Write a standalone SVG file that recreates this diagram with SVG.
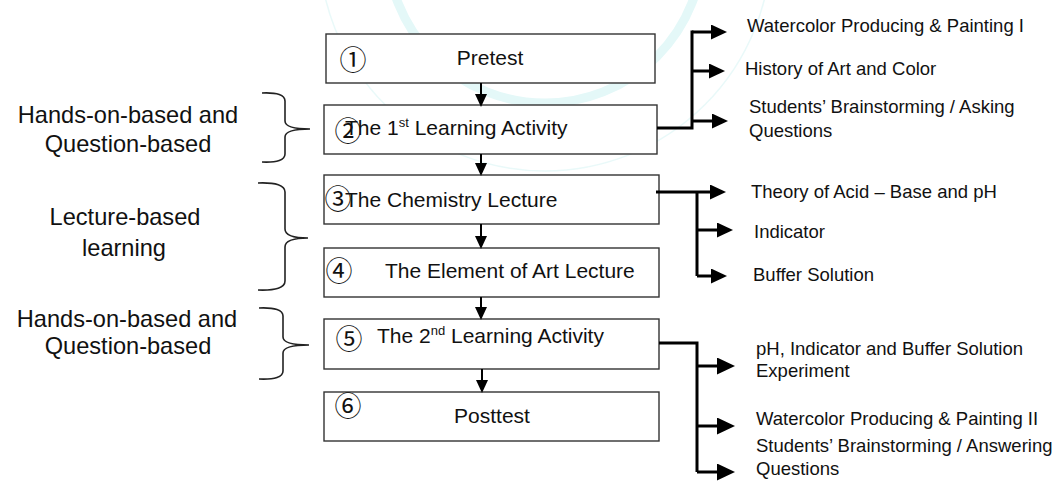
<svg xmlns="http://www.w3.org/2000/svg" width="1058" height="486" viewBox="0 0 1058 486">
  <style>
    .box { fill: #ffffff; stroke: #333333; stroke-width: 1.4; }
    .main { font-family: "Liberation Sans", Arial, sans-serif; font-size: 21px; fill: #111111; }
    .num { font-family: "Noto Sans CJK JP", "DejaVu Sans", sans-serif; font-size: 27px; fill: #111111; text-anchor: middle; }
    .side { font-family: "Liberation Sans", Arial, sans-serif; font-size: 23.6px; fill: #111111; text-anchor: middle; }
    .item { font-family: "Liberation Sans", Arial, sans-serif; font-size: 18.5px; fill: #111111; }
    .sup { font-size: 13px; }
    .brace { fill: none; stroke: #222222; stroke-width: 1.6; }
    .flow { fill: none; stroke: #000000; stroke-width: 2; }
    .branch { fill: none; stroke: #000000; stroke-width: 3; }
    .wm { fill: none; stroke: #e4f8f8; }
  </style>
  <defs>
    <marker id="headDown" markerUnits="userSpaceOnUse" markerWidth="13" markerHeight="12" viewBox="0 0 13 12" refX="0" refY="6" orient="auto">
      <path d="M0,0 L13,6 L0,12 z" fill="#000000"/>
    </marker>
    <marker id="headRight" markerUnits="userSpaceOnUse" markerWidth="16" markerHeight="15" viewBox="0 0 16 15" refX="0" refY="7.5" orient="auto">
      <path d="M0,0 L16,7.5 L0,15 z" fill="#000000"/>
    </marker>
    <marker id="headRightLg" markerUnits="userSpaceOnUse" markerWidth="18" markerHeight="17" viewBox="0 0 18 17" refX="0" refY="8.5" orient="auto">
      <path d="M0,0 L18,8.5 L0,17 z" fill="#000000"/>
    </marker>
  </defs>

  <rect width="1058" height="486" fill="#ffffff"/>

  <!-- faint seal rings in the background -->
  <g id="seal">
    <circle class="wm" cx="545" cy="-55" r="158" stroke-width="9"/>
    <circle class="wm" cx="545" cy="-55" r="226" stroke-width="1.5" opacity="0.8"/>
  </g>

  <!-- left-hand phase labels with braces -->
  <g id="phase-1">
    <text class="side" x="128" y="123">Hands-on-based and</text>
    <text class="side" x="128" y="152">Question-based</text>
    <path class="brace" d="M262,93 Q285,92 285,101 V121 Q285,129 310,129 Q285,129 285,137 V154 Q285,163 262,162"/>
  </g>
  <g id="phase-2">
    <text class="side" x="125" y="225">Lecture-based</text>
    <text class="side" x="124" y="256">learning</text>
    <path class="brace" d="M258,183 Q285,182 285,192 V229 Q285,238 308,238 Q285,238 285,247 V281 Q285,291 258,290"/>
  </g>
  <g id="phase-3">
    <text class="side" x="127" y="327">Hands-on-based and</text>
    <text class="side" x="128" y="354">Question-based</text>
    <path class="brace" d="M259,308 Q283,307 283,316 V337 Q283,345 309,345 Q283,345 283,353 V371 Q283,380 259,379"/>
  </g>

  <!-- main sequence -->
  <g id="step-1">
    <rect class="box" x="326" y="34" width="329" height="49"/>
    <text class="num" x="353" y="70">①</text>
    <text class="main" x="490" y="65" text-anchor="middle">Pretest</text>
  </g>
  <g id="step-2">
    <rect class="box" x="324" y="105" width="333" height="49"/>
    <text class="main" x="345" y="135">The 1<tspan class="sup" dy="-8">st</tspan><tspan dy="8"> Learning Activity</tspan></text>
    <text class="num" x="348" y="141">②</text>
  </g>
  <g id="step-3">
    <rect class="box" x="324" y="175" width="335" height="49"/>
    <text class="main" x="345" y="207">The Chemistry Lecture</text>
    <text class="num" x="338" y="209">③</text>
  </g>
  <g id="step-4">
    <rect class="box" x="324" y="248" width="335" height="49"/>
    <text class="num" x="339" y="281">④</text>
    <text class="main" x="385" y="278">The Element of Art Lecture</text>
  </g>
  <g id="step-5">
    <rect class="box" x="324" y="319" width="335" height="50"/>
    <text class="num" x="349" y="349">⑤</text>
    <text class="main" x="377" y="343">The 2<tspan class="sup" dy="-8">nd</tspan><tspan dy="8"> Learning Activity</tspan></text>
  </g>
  <g id="step-6">
    <rect class="box" x="324" y="392" width="335" height="49"/>
    <text class="num" x="348" y="416">⑥</text>
    <text class="main" x="492" y="423" text-anchor="middle">Posttest</text>
  </g>

  <!-- activity items -->
  <g id="items-1">
    <text class="item" x="747" y="32">Watercolor Producing &amp; Painting I</text>
    <text class="item" x="745" y="75">History of Art and Color</text>
    <text class="item" x="749" y="113">Students’ Brainstorming / Asking</text>
    <text class="item" x="749" y="137">Questions</text>
  </g>
  <g id="items-3">
    <text class="item" x="751" y="198">Theory of Acid – Base and pH</text>
    <text class="item" x="754" y="238">Indicator</text>
    <text class="item" x="753" y="281">Buffer Solution</text>
  </g>
  <g id="items-5">
    <text class="item" x="756" y="355">pH, Indicator and Buffer Solution</text>
    <text class="item" x="756" y="377">Experiment</text>
    <text class="item" x="756" y="425">Watercolor Producing &amp; Painting II</text>
    <text class="item" x="756" y="452">Students’ Brainstorming / Answering</text>
    <text class="item" x="756" y="475">Questions</text>
  </g>

  <!-- connectors -->
  <g id="connectors">
    <line class="flow" x1="481" y1="83" x2="481" y2="94" marker-end="url(#headDown)"/>
    <line class="flow" x1="481" y1="154" x2="481" y2="163" marker-end="url(#headDown)"/>
    <line class="flow" x1="481" y1="224" x2="481" y2="236" marker-end="url(#headDown)"/>
    <line class="flow" x1="481" y1="297" x2="481" y2="307" marker-end="url(#headDown)"/>
    <line class="flow" x1="482" y1="369" x2="482" y2="380" marker-end="url(#headDown)"/>

    <path class="branch" d="M657,128 H692 V30.5"/>
    <line class="branch" x1="692" y1="32" x2="711" y2="32" marker-end="url(#headRight)"/>
    <line class="branch" x1="692" y1="71" x2="709" y2="71" marker-end="url(#headRight)"/>
    <line class="branch" x1="692" y1="121" x2="712" y2="121" marker-end="url(#headRight)"/>

    <line class="branch" x1="656" y1="192" x2="710" y2="192" marker-end="url(#headRight)"/>
    <path class="branch" d="M697,192 V276"/>
    <line class="branch" x1="697" y1="230" x2="717" y2="230" marker-end="url(#headRight)"/>
    <line class="branch" x1="697" y1="276" x2="711" y2="276" marker-end="url(#headRight)"/>

    <path class="branch" d="M659,343 H697 V472" stroke-width="2.6"/>
    <line class="branch" x1="697" y1="366" x2="717" y2="366" marker-end="url(#headRightLg)"/>
    <line class="branch" x1="697" y1="426" x2="717" y2="426" marker-end="url(#headRightLg)"/>
    <line class="branch" x1="697" y1="472" x2="717" y2="472" marker-end="url(#headRightLg)"/>
  </g>
</svg>
